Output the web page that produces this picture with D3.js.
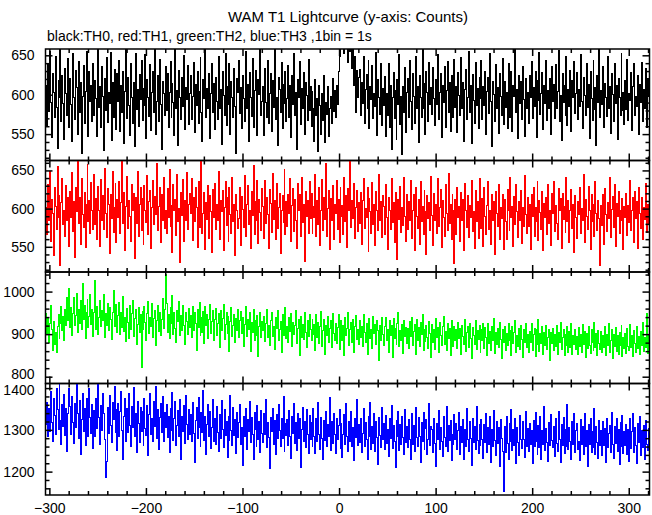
<!DOCTYPE html>
<html>
<head>
<meta charset="utf-8">
<script src="https://cdn.jsdelivr.net/npm/d3@7"></script>
<style>
  html, body { margin: 0; padding: 0; background: #fff; }
  svg { display: block; }
  text { font-family: "Liberation Sans", Arial, Helvetica, sans-serif; }
</style>
</head>
<body>
<svg id="chart" width="652" height="515"></svg>
<script>
const title = "WAM T1 Lightcurve (y-axis: Counts)";
const subtitle = "black:TH0, red:TH1, green:TH2, blue:TH3 ,1bin = 1s";
const tStart = -304;
const xTickLabels = [-300, -200, -100, 0, 100, 200, 300];

const th0 = [
612,561,638,579,655,590,546,627,603,571,649,584,532,618,597,660,566,625,589,543,633,601,574,646,558,
620,587,541,652,596,568,631,609,550,642,577,615,526,598,637,563,604,655,581,547,629,592,612,566,640,
573,618,595,547,663,584,610,559,636,598,529,621,580,647,565,603,589,654,542,616,571,632,600,556,627,
591,644,553,612,578,629,538,604,659,570,622,586,548,639,597,563,615,534,652,581,607,560,626,594,643,
567,608,586,651,544,619,597,572,638,555,603,629,578,661,549,592,624,566,645,588,531,617,602,574,636,
580,627,559,603,642,571,614,590,548,657,583,605,536,631,597,568,622,585,650,556,609,594,637,562,601,
625,569,598,641,552,613,586,630,564,604,647,577,541,619,595,658,571,608,583,627,545,602,639,578,614,
556,622,591,568,648,583,606,537,629,599,574,652,561,611,588,640,549,617,596,571,633,585,526,620,603,
643,576,609,557,624,595,566,655,582,613,540,628,597,572,646,559,605,631,587,548,619,600,663,574,592,
610,548,633,590,571,644,563,601,627,553,618,584,659,569,596,535,622,606,578,641,557,613,589,630,566,
595,637,571,612,546,625,588,652,574,603,531,619,596,642,562,608,583,628,550,615,599,567,645,580,611,
560,604,582,541,619,573,595,528,612,586,550,601,567,624,539,590,575,610,547,582,598,563,621,579,605,
571,612,588,630,672,648,688,661,695,652,683,664,690,641,676,655,680,633,667,612,649,578,631,596,622,
632,574,615,589,648,563,607,626,582,643,557,611,594,637,570,602,585,653,548,619,596,575,640,561,608,
586,623,547,601,574,639,558,612,531,596,628,570,605,543,619,587,651,562,598,524,610,577,634,552,603,
620,571,644,592,556,627,598,563,648,583,610,539,625,596,571,657,582,614,549,630,603,566,641,588,609,
575,634,595,561,619,587,651,568,603,627,546,612,590,636,559,605,642,578,616,553,624,597,571,645,584,
610,552,628,599,574,647,583,615,540,606,632,569,596,655,577,612,538,626,593,564,641,586,608,557,622,
595,643,568,611,586,630,549,604,622,576,652,591,534,617,600,566,638,582,609,551,627,598,573,646,562,
617,584,603,557,640,592,571,629,553,612,598,661,578,606,544,625,589,617,568,636,594,547,620,583,603,
564,625,597,642,570,609,585,630,546,618,593,654,575,601,628,556,612,589,643,567,605,582,621,549,636,
591,613,570,638,583,604,656,566,599,542,627,590,612,574,649,561,606,585,631,553,618,597,642,576,602,
628,568,607,585,651,592,557,622,599,573,640,584,613,545,630,595,567,644,581,609,536,624,590,659,571,
605,587,636,558,614,596,572,648,583,610,551,627,600,566,639,589,612,543,621,597,574,652,580,603,562,
618,581,645,567,602,593,628,555,611,639,574,598,585,624,549,613,590,641,566,607,582,633,559,620,598
];

const th1 = [
601,566,632,585,648,557,612,594,538,627,603,572,655,589,617,526,608,640,579,597,563,630,585,615,550,
622,588,647,570,609,536,628,596,664,581,614,553,639,592,575,621,549,606,658,583,611,567,634,598,572,
645,579,613,560,629,597,551,638,584,617,573,652,594,562,626,605,541,619,587,648,569,601,633,556,612,
589,636,567,608,669,580,621,545,603,642,574,611,590,557,631,598,620,535,614,581,649,563,606,627,571,
613,553,630,597,582,644,566,609,624,548,601,637,579,616,592,659,571,603,628,555,619,585,641,574,598,
567,626,589,651,576,604,543,632,598,612,565,645,583,600,529,621,591,638,557,610,584,647,572,606,620,
594,640,558,615,583,627,601,549,636,575,612,662,568,593,621,547,608,586,630,561,617,596,543,625,588,
633,572,605,584,649,560,611,596,624,545,602,635,578,614,557,627,592,568,641,583,606,538,619,597,574,
587,628,552,616,599,575,643,563,606,630,579,598,548,622,591,657,566,609,584,637,554,612,595,571,626,
603,561,637,580,614,592,548,625,607,569,646,586,611,559,633,574,602,620,541,598,617,582,651,566,609,
576,618,594,639,557,604,626,570,612,585,548,633,597,619,564,641,582,605,531,623,590,611,567,636,587,
620,568,603,588,645,563,610,579,627,552,598,638,571,615,586,659,564,600,624,547,613,584,630,559,606,
594,637,572,612,555,628,590,604,566,641,583,617,549,626,598,662,575,611,587,633,561,602,624,570,608,
581,621,553,610,639,574,600,588,627,544,613,596,568,634,579,606,552,623,597,571,645,585,609,562,617,
603,566,632,589,547,615,598,573,640,582,608,555,621,594,533,612,586,629,569,601,578,641,590,557,619,
572,609,585,637,561,598,619,545,627,590,574,612,553,635,583,603,566,624,596,540,617,587,608,571,642,
591,552,620,584,606,568,639,577,601,625,549,610,588,563,631,594,571,646,580,605,559,618,598,528,612,
566,628,589,603,557,621,584,612,545,633,598,575,617,562,604,589,637,570,596,548,624,583,609,561,640,
599,574,613,551,627,590,566,604,635,572,598,553,619,585,609,540,622,594,576,631,560,602,587,618,546,
612,583,559,625,597,571,641,588,603,550,616,579,632,596,562,609,585,624,554,601,577,643,592,568,614,
577,606,547,619,590,628,564,601,583,636,558,611,595,572,623,545,607,589,615,566,632,581,598,552,620,
593,635,570,604,581,559,626,597,613,548,620,586,603,569,641,583,611,556,598,625,574,605,542,617,589,
561,609,592,627,567,600,584,645,556,612,590,573,629,598,547,618,583,606,564,635,594,571,611,587,525,
604,578,619,553,626,592,570,608,587,641,562,599,616,575,631,551,607,590,622,568,597,584,613,546,603,
589,620,565,604,582,637,571,598,614,556,623,587,609,548,628,593,574,615,560,602,586,633,569,606,580
];

const th2 = [
948,901,937,880,925,968,912,862,930,875,905,858,918,947,890,926,965,909,941,884,957,920,985,933,1008,
915,962,896,948,985,920,943,996,904,957,926,978,911,1020,935,967,889,950,982,915,941,993,922,958,895,
951,1025,910,964,899,940,979,917,955,931,992,893,948,920,971,908,963,934,887,952,1003,918,946,969,905,
943,975,898,952,916,988,907,938,882,961,927,890,968,912,949,980,895,936,958,875,922,963,904,946,822,
954,910,966,928,885,948,977,902,940,918,972,893,937,956,874,931,968,907,951,896,935,984,913,957,1040,
972,905,946,890,962,925,990,899,950,914,880,956,930,976,897,944,909,968,921,876,952,930,898,961,915,
943,891,965,909,951,925,862,958,915,975,896,938,904,953,878,964,920,946,889,935,970,902,929,955,884,
934,961,897,926,948,868,955,909,936,970,888,923,952,901,942,860,930,963,894,920,946,881,937,908,957,
893,931,954,902,940,872,922,965,895,934,910,950,860,927,903,959,885,932,897,944,848,918,952,891,930,
908,942,882,925,958,893,920,873,933,950,895,917,865,938,914,955,886,911,930,856,946,897,924,962,889,
919,880,940,906,949,870,928,898,921,955,877,914,934,850,942,893,923,887,951,905,868,931,895,945,912,
886,934,898,922,862,946,893,927,878,917,954,872,908,935,853,921,896,942,881,913,931,868,948,902,884,
926,878,915,945,864,906,932,885,920,850,938,896,914,951,873,910,928,880,934,857,917,943,887,911,875,
932,892,917,870,945,904,880,926,852,914,937,889,912,866,942,901,923,875,933,908,838,920,885,939,900,
874,918,940,884,911,858,931,897,921,846,936,890,914,876,925,951,870,908,884,922,854,933,895,915,879,
914,866,930,894,940,873,907,922,853,935,886,916,870,927,899,945,861,910,882,920,893,867,930,902,845,
922,881,910,863,936,892,915,856,928,897,873,917,942,876,906,861,924,890,913,849,933,896,871,919,884,
912,866,927,889,914,852,921,895,875,934,860,904,918,869,926,890,843,915,897,876,931,863,909,887,920,
858,910,884,924,866,915,893,849,926,878,907,862,919,886,936,854,903,875,914,868,927,887,842,912,881,
917,862,901,873,925,884,908,850,918,878,903,932,857,897,872,913,864,921,887,846,911,880,926,868,899,
858,907,880,924,862,898,914,848,910,876,934,859,901,879,917,853,904,873,921,864,892,912,838,903,877,
913,861,898,872,921,853,904,880,928,864,891,910,849,900,874,918,858,906,869,924,851,897,876,912,863,
895,853,916,870,900,858,922,876,907,846,902,866,917,873,855,911,880,862,927,869,901,850,909,877,864,
906,857,896,868,918,850,900,873,924,856,884,910,843,899,870,915,859,897,851,905,874,921,847,893,866,
901,855,913,872,862,922,869,897,848,908,878,858,917,866,894,852,906,873,927,860,891,868,948,855,899
];

const th3 = [
1312,1365,1283,1350,1296,1392,1318,1271,1374,1335,1290,1398,1348,1301,1410,1322,1266,1361,1309,1385,1287,1352,1249,1340,1400,
1356,1290,1381,1317,1268,1364,1305,1408,1338,1279,1370,1240,1325,1388,1296,1352,1262,1375,1314,1283,1399,1330,1291,1361,1255,
1347,1285,1376,1303,1410,1329,1266,1359,1298,1387,1340,1277,1187,1225,1354,1292,1383,1311,1270,1366,1325,1404,1293,1348,1250,
1362,1283,1343,1393,1299,1228,1331,1375,1273,1350,1294,1386,1310,1260,1357,1306,1401,1284,1339,1246,1368,1315,1270,1354,1297,
1345,1262,1374,1303,1287,1358,1238,1336,1388,1290,1327,1272,1367,1309,1404,1280,1348,1253,1330,1362,1293,1380,1271,1341,1305,
1361,1282,1333,1246,1352,1298,1390,1275,1327,1368,1263,1311,1346,1285,1373,1230,1332,1295,1358,1268,1383,1312,1278,1349,1290,
1337,1271,1366,1291,1222,1323,1354,1280,1378,1306,1259,1342,1293,1394,1275,1331,1241,1312,1360,1284,1345,1256,1305,1372,1273,
1328,1266,1357,1293,1248,1336,1279,1370,1302,1258,1349,1286,1320,1233,1331,1274,1383,1298,1262,1354,1287,1324,1244,1342,1281,
1318,1360,1265,1305,1215,1333,1283,1351,1254,1324,1296,1368,1270,1329,1288,1228,1341,1301,1260,1358,1278,1320,1245,1347,1292,
1270,1338,1289,1372,1258,1317,1282,1208,1329,1297,1350,1264,1322,1240,1336,1280,1360,1299,1261,1327,1279,1380,1248,1315,1286,
1325,1263,1346,1285,1231,1332,1292,1364,1268,1317,1250,1340,1279,1326,1210,1301,1354,1273,1320,1258,1348,1289,1244,1335,1278,
1318,1260,1352,1283,1244,1326,1271,1366,1290,1254,1330,1280,1228,1322,1274,1345,1259,1312,1285,1378,1250,1319,1268,1339,1288,
1243,1327,1276,1310,1349,1255,1316,1233,1288,1336,1266,1362,1283,1249,1321,1273,1343,1260,1305,1226,1328,1282,1372,1262,1313,
1270,1327,1245,1292,1350,1259,1318,1277,1228,1331,1284,1366,1253,1309,1268,1340,1249,1320,1281,1218,1329,1287,1257,1354,1276,
1316,1252,1335,1268,1302,1235,1326,1279,1358,1256,1311,1273,1210,1322,1284,1344,1250,1313,1264,1333,1282,1240,1349,1270,1307,
1257,1325,1276,1230,1338,1266,1310,1249,1353,1281,1260,1329,1284,1221,1317,1272,1342,1253,1303,1324,1242,1278,1362,1263,1309,
1301,1246,1327,1268,1212,1316,1277,1347,1253,1306,1271,1236,1331,1282,1259,1355,1249,1311,1274,1322,1226,1290,1264,1336,1277,
1316,1252,1298,1341,1240,1308,1270,1325,1228,1301,1261,1350,1276,1248,1319,1280,1215,1328,1269,1307,1253,1357,1275,1243,1313,
1262,1324,1276,1232,1314,1270,1340,1245,1305,1264,1331,1222,1301,1259,1347,1274,1239,1319,1268,1306,1213,1325,1279,1249,1152,
1309,1246,1333,1267,1228,1316,1273,1348,1251,1300,1262,1326,1220,1305,1269,1239,1335,1276,1255,1320,1278,1234,1345,1260,1303,
1248,1316,1266,1299,1219,1322,1261,1341,1272,1240,1311,1258,1331,1228,1298,1264,1355,1250,1304,1270,1224,1317,1262,1336,1275,
1258,1309,1236,1326,1268,1249,1343,1276,1222,1313,1262,1330,1243,1302,1259,1360,1252,1306,1271,1230,1320,1265,1338,1246,1299,
1316,1253,1272,1227,1324,1266,1307,1240,1340,1261,1299,1213,1312,1265,1328,1245,1297,1258,1351,1241,1307,1269,1232,1322,1262,
1298,1238,1319,1263,1304,1222,1327,1258,1291,1311,1246,1342,1264,1231,1308,1268,1326,1249,1301,1216,1317,1261,1334,1243,1296,
1262,1313,1241,1301,1224,1326,1255,1295,1339,1246,1305,1263,1219,1316,1269,1331,1238,1298,1258,1310,1228,1322,1266,1250,1303
];

const panelSeries = [th0, th1, th2, th3];
const panelColors = ["#000000", "#ff0000", "#00ff00", "#0000ff"];
const panelDomains = [[516.5, 658], [517, 663], [784, 1046], [1144, 1411]];
const panelMajorTicks = [[550, 600, 650], [550, 600, 650], [800, 900, 1000], [1200, 1300, 1400]];
const panelMinorStep = [10, 10, 20, 20];

const svg = d3.select("#chart");
const left = 45.5, right = 649.5, top0 = 49, bottom = 495;
const ph = (bottom - top0) / 4;

const x = d3.scaleLinear().domain([-304, 321.5]).range([left, right]);

svg.append("text").attr("x", 348).attr("y", 22).attr("text-anchor", "middle")
  .attr("font-size", 15).text(title);
svg.append("text").attr("x", 47).attr("y", 41).attr("text-anchor", "start")
  .attr("font-size", 14).text(subtitle);

const xMajor = d3.range(-300, 301, 100);
const xMinor = d3.range(-300, 321, 20).filter(v => v % 100 !== 0);
const fmt = d3.format("d");

panelSeries.forEach((vals, p) => {
  const y0 = top0 + p * ph, y1 = y0 + ph;
  const y = d3.scaleLinear().domain(panelDomains[p]).range([y1, y0]);
  const g = svg.append("g");

  const clipId = "clip" + p;
  svg.append("clipPath").attr("id", clipId).append("rect")
    .attr("x", left).attr("y", y0).attr("width", right - left).attr("height", ph);

  const pts = vals.map((v, i) => [tStart + i, v]);
  pts.push([tStart + vals.length, vals[vals.length - 1]]);
  const line = d3.line().x(d => x(d[0])).y(d => y(d[1])).curve(d3.curveStepAfter);
  g.append("path").attr("clip-path", `url(#${clipId})`)
    .attr("d", line(pts)).attr("fill", "none")
    .attr("stroke", panelColors[p]).attr("stroke-width", 1)
    .attr("shape-rendering", "crispEdges");

  const [dmin, dmax] = panelDomains[p];
  const step = panelMinorStep[p];
  const yMinor = d3.range(Math.ceil(dmin / step) * step, dmax, step)
    .filter(v => !panelMajorTicks[p].includes(v));

  const addAxis = (axisFn, scale, vals, size, tx, ty, labels) => {
    const a = axisFn(scale).tickValues(vals).tickSize(size).tickPadding(labels ? 11 : 0)
      .tickFormat(labels ? fmt : () => "");
    const ag = svg.append("g").attr("transform", `translate(${tx},${ty})`).call(a);
    ag.select(".domain").remove();
    ag.selectAll("line").attr("stroke", "#000").attr("stroke-width", 1.5);
    ag.selectAll("text").attr("font-size", 14).attr("fill", "#000")
      .attr("font-family", '"Liberation Sans", Arial, sans-serif');
    return ag;
  };
  addAxis(d3.axisLeft, y, yMinor, -4, left, 0, false);
  const yl = addAxis(d3.axisLeft, y, panelMajorTicks[p], -7, left, 0, true);
  // nudge the labels that sit at a panel's lower/upper edge so they do not collide
  yl.selectAll("text").attr("dy", d => {
    if (p === 2 && d === 800) return "0.1em";
    if (p === 3 && d === 1400) return "0.45em";
    return "0.32em";
  });
  addAxis(d3.axisRight, y, yMinor, -4, right, 0, false);
  addAxis(d3.axisRight, y, panelMajorTicks[p], -7, right, 0, false);
  addAxis(d3.axisTop, x, xMinor, -4, 0, y0, false);
  addAxis(d3.axisTop, x, xMajor, -7, 0, y0, false);
  addAxis(d3.axisBottom, x, xMinor, -4, 0, y1, false);
  const xb = addAxis(d3.axisBottom, x, xMajor, -7, 0, y1, p === 3);
  if (p === 3) xb.selectAll("text").attr("dy", "0.71em").attr("y", 8);

  svg.append("rect").attr("x", left).attr("y", y0).attr("width", right - left).attr("height", ph)
    .attr("fill", "none").attr("stroke", "#000").attr("stroke-width", 1.5);
});
</script>
</body>
</html>
